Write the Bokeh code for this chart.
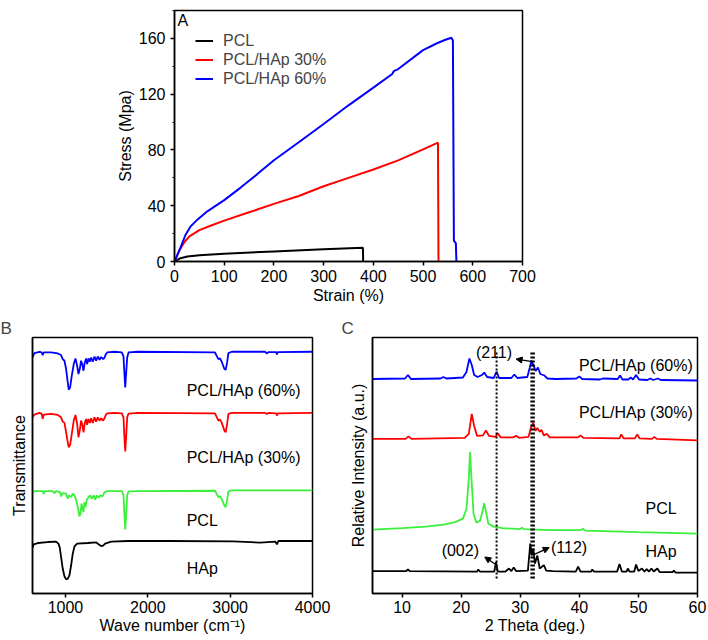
from bokeh.plotting import figure
from bokeh.layouts import column, row
from bokeh.models import (Range1d, SingleIntervalTicker, FixedTicker, Legend, LegendItem,
                          Label, Arrow, NormalHead, ColumnDataSource)
from bokeh.core.properties import value
from bokeh.embed import file_html
from bokeh.resources import INLINE

FONT = "Liberation Sans"

# ---------------- Panel A: stress-strain ----------------
pcl_strain = [0, 12, 26, 50, 100, 200, 300, 379, 379.5]
pcl_stress = [0, 2.4, 3.6, 4.5, 5.6, 7.2, 8.7, 9.8, 0]
h30_strain = [0, 10, 20, 30, 50, 75, 100, 150, 200, 250, 300, 350, 400, 450, 500, 530, 531]
h30_stress = [0, 8, 14, 18, 22.5, 26, 29.3, 35.3, 41.3, 47, 54, 60, 66, 72.5, 80.4, 85.2, 0]
h60_strain = [0, 12, 22, 32, 46, 66, 100, 133, 166, 200, 250, 300, 350, 400, 438, 441, 450,
              500, 528, 545, 557, 560, 562, 566, 567]
h60_stress = [0, 10, 19, 25, 30, 36, 44, 53, 62.5, 72.6, 85.5, 98.6, 112, 124.7, 134.5, 136.5, 138,
              151.6, 156.5, 159, 160.5, 158.5, 15, 13, 0]
legend_labels = ["PCL", "PCL/HAp 30%", "PCL/HAp 60%"]

# ---------------- Panel B: FTIR ----------------
ftir_b60_x = [600, 623, 684, 712, 724, 736, 825, 906, 947, 967, 988, 1008, 1028, 1040, 1057, 1077,
              1101, 1122, 1142, 1158, 1174, 1190, 1207, 1219, 1235, 1251, 1263, 1280, 1296, 1312,
              1332, 1353, 1373, 1393, 1414, 1434, 1458, 1474, 1491, 1507, 1596, 1685, 1705, 1713,
              1726, 1738, 1750, 1766, 1880, 2816, 2857, 2877, 2898, 2930, 2946, 2963, 2979, 3019,
              3425, 3445, 3465, 3559, 3567, 3580, 4000]
ftir_b60_y = [236.6, 241, 242.3, 241.6, 239, 241.6, 241.6, 240.6, 239, 235, 233.3, 225, 211.6, 204.3,
              206.6, 218.3, 230, 235.6, 228.3, 220, 225, 233.3, 229, 223.3, 231.6, 235.6, 230, 235.6,
              232.3, 236.6, 232.3, 237.6, 233.3, 237.6, 234.3, 237, 235, 236.3, 240, 241.6, 242.3,
              241.6, 237.6, 225, 206.6, 221.6, 236.6, 241.6, 242.3, 241.6, 235, 235.6, 232.3, 225,
              224.3, 231.6, 241, 242.3, 242.3, 240.6, 242, 242, 239.6, 242, 242.3]
ftir_b30_x = ftir_b60_x
ftir_b30_y = [176.6, 179.3, 181, 180, 175, 179.3, 180, 179, 176.6, 172.3, 171, 161.6, 151.6, 146.6,
              149, 160, 173.3, 179, 170, 156.6, 163.3, 173.3, 168.3, 161.6, 171, 175, 169, 175,
              171, 175.6, 171, 176.6, 172.3, 176.6, 173.3, 175.6, 173.3, 175.6, 179, 180.6, 181,
              180.6, 176.6, 161.6, 142.3, 158.3, 176.6, 180.3, 181, 180.6, 173.3, 174.3, 171, 163.3,
              161.6, 170, 180, 181, 181, 180, 181, 180.6, 178.3, 180.6, 181]
ftir_pcl_x = [600, 623, 724, 736, 752, 846, 866, 886, 935, 947, 963, 1008, 1028, 1044, 1069, 1089,
              1110, 1130, 1150, 1170, 1182, 1195, 1207, 1219, 1231, 1243, 1260, 1280, 1300, 1320,
              1341, 1361, 1381, 1402, 1426, 1450, 1474, 1499, 1685, 1705, 1713, 1726, 1738, 1750,
              1766, 1880, 2816, 2857, 2877, 2898, 2930, 2946, 2963, 2979, 3019, 4000]
ftir_pcl_y = [100, 102.6, 102.6, 100, 102.6, 102.6, 100.6, 102.6, 101.6, 97.3, 100.6, 100, 95, 98.3,
              96.6, 100, 98.3, 94, 86.6, 77.3, 80, 90, 85, 81.6, 91.6, 86.6, 94, 96.6, 98.3, 95,
              98.3, 94, 98.3, 96, 98.6, 97.3, 101.3, 102.6, 102.6, 98.3, 83.3, 64.3, 80, 98.3,
              102.3, 102.6, 103, 96.6, 97.6, 94.3, 88.3, 86.6, 93.3, 102.3, 103.3, 103.3]
ftir_hap_x = [600, 615, 664, 785, 886, 915, 931, 947, 967, 988, 1008, 1028, 1049, 1069, 1089, 1110,
              1142, 1272, 1373, 1402, 1434, 1458, 1482, 1555, 1758, 2245, 3036, 3364, 3550, 3567,
              3587, 4000]
ftir_hap_y = [46, 49.3, 50.6, 51.6, 52, 50, 46, 36.6, 25, 17.3, 14.3, 14.6, 18.3, 28.3, 40, 47.3,
              50, 50.6, 51.3, 49.3, 47.6, 48, 50, 52, 52.6, 52.6, 52.3, 51, 52, 49.3, 52.6, 52.6]
ftir_names = ["PCL/HAp (60%)", "PCL/HAp (30%)", "PCL", "HAp"]
ftir_name_x = [2472, 2472, 2472, 2472]
ftir_name_y = [203.3, 136.6, 73.3, 25]

# ---------------- Panel C: XRD ----------------
xrd_60_x = [5, 10.5, 11.0, 11.5, 16.5, 17.0, 17.5, 20.3, 20.9, 21.4, 21.8, 22.2, 22.8, 23.5, 23.9,
            24.4, 25.5, 26.0, 26.4, 28.5, 29.0, 29.5, 31.2, 31.6, 31.9, 32.3, 32.6, 33.0, 33.4, 34.1,
            34.6, 36, 39.5, 40.0, 40.5, 43.5, 44, 46.5, 46.9, 47.3, 48.3, 48.7, 49.1, 49.6, 50.1,
            51.5, 52.0, 52.5, 53.3, 53.8, 60]
xrd_60_y = [215, 215.5, 219, 215, 215.5, 217, 215.5, 216.5, 222, 235.5, 229, 219, 217, 219, 221.5,
            217, 216, 222.5, 216, 216, 219.5, 216, 217, 226, 233.5, 228, 223, 226.5, 220, 218.5,
            215.5, 215, 215.5, 217.5, 215, 214.5, 215.5, 215, 218.5, 214.5, 214.5, 216.5, 214.5,
            219, 214.5, 214, 215.5, 214, 215.5, 214, 213.5]
xrd_30_x = [5, 10.6, 11.1, 11.6, 20.6, 21.3, 21.8, 22.2, 22.7, 23.7, 24.2, 24.7, 25.8, 26.2, 26.7,
            28.8, 29.3, 29.8, 31.4, 31.8, 32.2, 32.6, 32.9, 33.3, 33.6, 34.0, 34.5, 35, 39.8, 40.2,
            40.7, 46.8, 47.1, 47.5, 49.4, 49.8, 50.2, 52.3, 52.7, 53.1, 60]
xrd_30_y = [155, 155, 157.5, 155, 156, 160, 180, 168, 158, 158.5, 163.5, 158, 157, 160.5, 156.5,
            156.5, 158, 156, 157, 166, 171, 163, 166, 162, 164, 158.5, 160, 156.5, 156.5, 158.5,
            156, 155.5, 159.5, 155.5, 155.5, 159.5, 155.5, 155, 157, 155, 153.5]
xrd_pcl_x = [5, 10, 14, 17, 19, 20.3, 20.9, 21.3, 21.5, 21.75, 22.1, 22.6, 23.2, 23.6, 23.9, 24.2,
             24.6, 25.5, 27, 30, 30.3, 30.6, 35, 40.3, 40.6, 41, 50, 60]
xrd_pcl_y = [64, 65.5, 67, 69, 71.5, 75, 85, 115, 142, 115, 80, 71, 73, 82, 90.5, 82, 70, 67, 65.5,
             64.5, 66, 64.5, 63.5, 63.5, 65, 63, 61.5, 60]
xrd_hap_x = [5, 10.7, 11.0, 11.3, 22.7, 22.9, 23.2, 25.6, 25.9, 26.2, 27.5, 28.1, 28.5, 28.9, 29.3,
             31.3, 31.7, 31.95, 32.2, 32.5, 32.9, 33.3, 34.0, 34.4, 35.5, 39.4, 39.8, 40.2, 42,
             42.2, 42.5, 46.4, 46.8, 47.2, 48.0, 48.2, 48.5, 49.3, 49.6, 50, 50.6, 51, 51.4, 51.8,
             52.2, 52.6, 53.2, 53.6, 55.8, 56, 56.3, 60]
xrd_hap_y = [22.5, 22.5, 24, 22.5, 22, 24, 22, 22, 31.5, 22, 22, 25, 22.5, 26, 22.5, 23, 50, 38, 45,
             30, 38, 25, 28.5, 23, 22.5, 22, 27, 22, 22, 24, 22, 22, 29.5, 22, 22, 25, 22, 22, 29,
             22.5, 25, 22, 24.5, 22, 25, 22, 25, 21.5, 21.5, 23, 21, 21]
xrd_names_right = ["PCL/HAp (60%)", "PCL/HAp (30%)"]
xrd_names_right_x = [59.2, 59.2]
xrd_names_right_y = [229, 181.6]
xrd_names_left = ["PCL", "HAp"]
xrd_names_left_x = [51.2, 51.2]
xrd_names_left_y = [85.6, 42.3]
hkl_labels = ["(211)", "(002)", "(112)"]
hkl_x = [22.5, 16.7, 35.2]
hkl_y = [241.3, 43.3, 46.6]
hkl_arrow_x0 = [31.8, 25.8, 32.4]
hkl_arrow_y0 = [232.6, 29.3, 39.3]
hkl_arrow_x1 = [29.3, 24.0, 34.9]
hkl_arrow_y1 = [235.0, 36.6, 46.0]
ref_line_x = [26.0, 32.1]
ref_line_y0 = [15, 15]
ref_line_y1 = [243, 243]
ref_line_w = [2, 4.5]

BLACK = "#000000"
RED = "#ff0000"
BLUE = "#0000ff"
GREEN = "#3af03a"


def style(p, tick_fs, label_fs):
    p.outline_line_color = "black"
    p.outline_line_width = 1.5
    p.outline_line_alpha = 1.0
    p.grid.visible = False
    p.background_fill_color = "white"
    p.border_fill_color = "white"
    for ax in p.axis:
        ax.axis_line_width = 1.5
        ax.major_tick_line_width = 1.5
        ax.minor_tick_line_width = 1.2
        ax.major_tick_in = 0
        ax.major_tick_out = 4
        ax.minor_tick_in = 0
        ax.minor_tick_out = 2
        ax.major_label_text_font = FONT
        ax.major_label_text_font_size = tick_fs
        ax.major_label_text_color = "black"
        ax.axis_label_text_font = FONT
        ax.axis_label_text_font_size = label_fs
        ax.axis_label_text_font_style = "normal"
        ax.axis_label_text_color = "black"


# ---------- figure A ----------
pA = figure(width=542, height=308, x_range=Range1d(0, 700), y_range=Range1d(0, 180),
            output_backend="svg", toolbar_location=None,
            min_border_left=174, min_border_right=20, min_border_top=10, min_border_bottom=47)
style(pA, "16px", "16px")
pA.xaxis.ticker = SingleIntervalTicker(interval=100, num_minor_ticks=0)
pA.yaxis.ticker = SingleIntervalTicker(interval=40, num_minor_ticks=2)
pA.xaxis.axis_label = "Strain (%)"
pA.yaxis.axis_label = "Stress (Mpa)"
pA.xaxis.major_label_standoff = 4
pA.xaxis.axis_label_standoff = 2
pA.yaxis.major_label_standoff = 5
pA.yaxis.axis_label_standoff = 2

rA1 = pA.line(pcl_strain, pcl_stress, line_color=BLACK, line_width=2)
rA2 = pA.line(h30_strain, h30_stress, line_color=RED, line_width=2)
rA3 = pA.line(h60_strain, h60_stress, line_color=BLUE, line_width=2)
legA = Legend(items=[LegendItem(label=legend_labels[0], renderers=[rA1]),
                     LegendItem(label=legend_labels[1], renderers=[rA2]),
                     LegendItem(label=legend_labels[2], renderers=[rA3])],
              location="top_left", margin=10, padding=11, spacing=0,
              label_height=19, glyph_height=19, glyph_width=18, label_standoff=10,
              label_text_font=FONT, label_text_font_size="16px",
              border_line_alpha=0, background_fill_alpha=0)
pA.add_layout(legA)
pA.add_layout(Label(x=6, y=179, text="A", text_baseline="top", text_align="left",
                    text_font=FONT, text_font_size="16px", text_color="black"))

# ---------- figure B ----------
pB = figure(width=340, height=330, x_range=Range1d(600, 4000), y_range=Range1d(0, 256.6),
            output_backend="svg", toolbar_location=None, title="B",
            min_border_left=32, min_border_right=28, min_border_top=29, min_border_bottom=45)
style(pB, "16px", "16px")
pB.xaxis.ticker = SingleIntervalTicker(interval=1000, num_minor_ticks=0)
pB.yaxis.ticker = FixedTicker(ticks=[])
pB.yaxis.major_label_text_font_size = "0px"
pB.yaxis.major_tick_line_color = None
pB.yaxis.minor_tick_line_color = None
pB.xaxis.axis_label = "Wave number (cm\u207b\u00b9)"
pB.yaxis.axis_label = "Transmittance"
pB.xaxis.major_label_standoff = 3
pB.xaxis.axis_label_standoff = 1
pB.yaxis.axis_label_standoff = 5
pB.title.align = "left"
pB.title.offset = -32
pB.title.standoff = 0
pB.title.text_font = FONT
pB.title.text_font_size = "17px"
pB.title.text_font_style = "normal"

pB.line(ftir_b60_x, ftir_b60_y, line_color=BLUE, line_width=1.8)
pB.line(ftir_b30_x, ftir_b30_y, line_color=RED, line_width=1.8)
pB.line(ftir_pcl_x, ftir_pcl_y, line_color=GREEN, line_width=1.8)
pB.line(ftir_hap_x, ftir_hap_y, line_color=BLACK, line_width=1.8)
pB.text(x=ftir_name_x, y=ftir_name_y, text=ftir_names, text_font=value(FONT),
        text_font_size="16px", text_align="left", text_baseline="middle", text_color="black")

# ---------- figure C ----------
pC = figure(width=366, height=330, x_range=Range1d(5, 60), y_range=Range1d(0, 256.6),
            output_backend="svg", toolbar_location=None, title="C",
            min_border_left=32, min_border_right=9, min_border_top=29, min_border_bottom=45)
style(pC, "16px", "16px")
pC.xaxis.ticker = SingleIntervalTicker(interval=10, num_minor_ticks=0)
pC.yaxis.ticker = FixedTicker(ticks=[])
pC.yaxis.major_label_text_font_size = "0px"
pC.yaxis.major_tick_line_color = None
pC.yaxis.minor_tick_line_color = None
pC.xaxis.axis_label = "2 Theta (deg.)"
pC.yaxis.axis_label = "Relative Intensity (a.u.)"
pC.xaxis.major_label_standoff = 3
pC.xaxis.axis_label_standoff = 1
pC.yaxis.axis_label_standoff = 6
pC.title.align = "left"
pC.title.offset = -31
pC.title.standoff = 0
pC.title.text_font = FONT
pC.title.text_font_size = "17px"
pC.title.text_font_style = "normal"

pC.line(xrd_60_x, xrd_60_y, line_color=BLUE, line_width=1.8)
pC.line(xrd_30_x, xrd_30_y, line_color=RED, line_width=1.8)
pC.line(xrd_pcl_x, xrd_pcl_y, line_color=GREEN, line_width=1.8)
pC.line(xrd_hap_x, xrd_hap_y, line_color=BLACK, line_width=1.8)
pC.segment(x0=ref_line_x, y0=ref_line_y0, x1=ref_line_x, y1=ref_line_y1,
           line_width=ref_line_w, line_color="black", line_dash="2 2")
pC.text(x=xrd_names_right_x, y=xrd_names_right_y, text=xrd_names_right, text_font=value(FONT),
        text_font_size="16px", text_align="right", text_baseline="middle", text_color="black")
pC.text(x=xrd_names_left_x, y=xrd_names_left_y, text=xrd_names_left, text_font=value(FONT),
        text_font_size="16px", text_align="left", text_baseline="middle", text_color="black")
pC.text(x=hkl_x, y=hkl_y, text=hkl_labels, text_font=value(FONT),
        text_font_size="16px", text_align="left", text_baseline="middle", text_color="black")
arrow_src = ColumnDataSource(dict(x0=hkl_arrow_x0, y0=hkl_arrow_y0, x1=hkl_arrow_x1, y1=hkl_arrow_y1))
pC.add_layout(Arrow(source=arrow_src, x_start="x0", y_start="y0", x_end="x1", y_end="y1",
                    line_width=1.3, line_color="black",
                    end=NormalHead(size=6, fill_color="black", line_color="black")))

layout = column(pA, row(pB, pC))
open("out.html", "w").write(file_html(layout, INLINE))
